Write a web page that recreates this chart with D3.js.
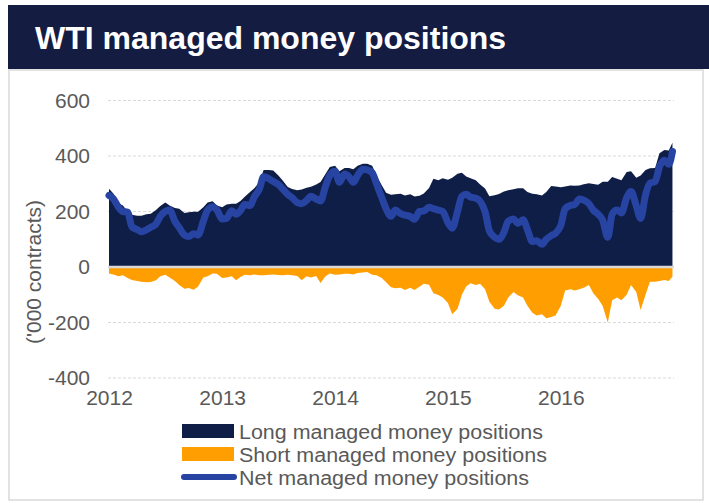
<!DOCTYPE html>
<html>
<head>
<meta charset="utf-8">
<script src="https://cdn.jsdelivr.net/npm/d3@7"></script>
<style>
  html, body { margin: 0; padding: 0; background: #ffffff; }
  svg { display: block; font-family: "Liberation Sans", Arial, sans-serif; }
</style>
</head>
<body>
<script>
// ---- Data (thousand contracts), semi-monthly readings ----
const dates = [
  "2012-01-01","2012-01-15","2012-02-01","2012-02-15","2012-03-01","2012-03-15","2012-04-01","2012-04-15","2012-05-01","2012-05-15","2012-06-01","2012-06-15",
  "2012-07-01","2012-07-15","2012-08-01","2012-08-15","2012-09-01","2012-09-15","2012-10-01","2012-10-15","2012-11-01","2012-11-15","2012-12-01","2012-12-15",
  "2013-01-01","2013-01-15","2013-02-01","2013-02-15","2013-03-01","2013-03-15","2013-04-01","2013-04-15","2013-05-01","2013-05-15","2013-06-01","2013-06-15",
  "2013-07-01","2013-07-15","2013-08-01","2013-08-15","2013-09-01","2013-09-15","2013-10-01","2013-10-15","2013-11-01","2013-11-15","2013-12-01","2013-12-15",
  "2014-01-01","2014-01-15","2014-02-01","2014-02-15","2014-03-01","2014-03-15","2014-04-01","2014-04-15","2014-05-01","2014-05-15","2014-06-01","2014-06-15",
  "2014-07-01","2014-07-15","2014-08-01","2014-08-15","2014-09-01","2014-09-15","2014-10-01","2014-10-15","2014-11-01","2014-11-15","2014-12-01","2014-12-15",
  "2015-01-01","2015-01-15","2015-02-01","2015-02-15","2015-03-01","2015-03-15","2015-04-01","2015-04-15","2015-05-01","2015-05-15","2015-06-01","2015-06-15",
  "2015-07-01","2015-07-15","2015-08-01","2015-08-15","2015-09-01","2015-09-15","2015-10-01","2015-10-15","2015-11-01","2015-11-15","2015-12-01","2015-12-15",
  "2016-01-01","2016-01-15","2016-02-01","2016-02-15","2016-03-01","2016-03-15","2016-04-01","2016-04-15","2016-05-01","2016-05-15","2016-06-01","2016-06-15",
  "2016-07-01","2016-07-15","2016-08-01","2016-08-15","2016-09-01","2016-09-15","2016-10-01","2016-10-15","2016-11-01","2016-11-15","2016-12-01","2016-12-15",
  "2016-12-27"
];

const longPos = [
  282,265,230,222,200,188,185,185,190,192,205,220,232,222,213,210,195,197,199,199,215,232,237,222,
  215,225,228,228,238,253,270,284,305,350,350,348,331,313,288,281,277,279,286,289,297,306,335,360,
  365,345,357,357,352,365,372,372,365,330,295,268,260,262,264,258,262,254,257,265,285,318,313,320,
  314,322,336,340,326,320,313,297,283,255,259,263,272,277,280,284,284,270,264,262,258,270,292,290,
  287,290,294,293,294,298,302,299,296,307,307,324,318,313,342,345,322,330,350,356,357,410,422,420,
  448
];

const shortPos = [
  -23,-27,-33,-30,-40,-47,-50,-53,-55,-54,-48,-33,-28,-38,-50,-65,-78,-76,-82,-70,-38,-33,-23,-24,
  -40,-38,-33,-48,-36,-28,-30,-27,-30,-30,-28,-27,-29,-30,-28,-30,-32,-48,-33,-38,-32,-58,-33,-23,
  -28,-27,-24,-24,-27,-22,-20,-18,-28,-30,-40,-55,-73,-77,-75,-83,-75,-83,-71,-60,-64,-95,-101,-110,
  -130,-170,-150,-100,-70,-59,-65,-60,-80,-125,-150,-153,-140,-110,-90,-102,-110,-140,-165,-175,-170,-185,-180,-175,
  -140,-85,-80,-85,-80,-75,-65,-95,-115,-140,-200,-120,-110,-120,-100,-65,-90,-155,-100,-53,-53,-50,-47,-50,
  -35
];

const netPos = [
  258,246,215,200,198,145,135,127,134,143,155,183,200,205,165,142,115,110,120,115,165,205,217,205,
  173,175,203,190,203,225,222,253,280,325,318,308,298,282,262,250,232,228,240,255,245,238,290,330,
  345,305,335,325,305,330,352,350,340,300,250,210,183,205,192,187,182,172,200,202,215,210,205,200,
  160,140,200,255,262,252,248,237,200,130,107,100,125,165,173,157,170,135,92,95,82,100,113,122,
  150,210,222,225,245,241,228,205,190,170,107,190,205,195,250,272,220,175,260,302,308,361,385,370,
  416
];

const yTicks = [-400, -200, 0, 200, 400, 600];
const xTickYears = ["2012", "2013", "2014", "2015", "2016"];
const seriesNames = ["Long managed money positions", "Short managed money positions", "Net managed money positions"];
const titleText = "WTI managed money positions";
const yAxisTitle = "('000 contracts)";

// ---- Build ----
const W = 709, H = 503;
const parse = d3.timeParse("%Y-%m-%d");
const data = dates.map((d, i) => ({ date: parse(d), long: longPos[i], short: shortPos[i], net: netPos[i] }));

const colors = { long: "#0f1e46", short: "#ff9e00", net: "#2744a3", text: "#595959", grid: "#d9d9d9", title: "#141c42" };

const svg = d3.select("body").append("svg").attr("width", W).attr("height", H);

// Title bar
svg.append("rect").attr("x", 8).attr("y", 5).attr("width", W - 8).attr("height", 64).attr("fill", colors.title);
svg.append("text").attr("x", 35).attr("y", 49).attr("fill", "#ffffff")
  .attr("font-size", 32).attr("font-weight", "bold").text(titleText);

// Chart frame
svg.append("rect").attr("x", 9).attr("y", 70).attr("width", 694).attr("height", 430)
  .attr("fill", "none").attr("stroke", "#d9d9d9").attr("stroke-width", 1.5);

const x = d3.scaleTime().domain([parse("2012-01-01"), parse("2017-01-01")]).range([109, 674]);
const y = d3.scaleLinear().domain([-400, 600]).range([378, 100.5]);

// Gridlines
svg.append("g").selectAll("line").data(yTicks.filter(t => t !== 0)).join("line")
  .attr("x1", 108).attr("x2", 674).attr("y1", d => y(d)).attr("y2", d => y(d))
  .attr("stroke", colors.grid).attr("stroke-width", 1).attr("stroke-dasharray", "3,2");

// Areas
const areaLong = d3.area().x(d => x(d.date)).y0(y(0)).y1(d => y(d.long));
const areaShort = d3.area().x(d => x(d.date)).y0(y(0)).y1(d => y(d.short));
svg.append("path").datum(data).attr("d", areaLong).attr("fill", colors.long);
svg.append("path").datum(data).attr("d", areaShort).attr("fill", colors.short);

// Zero line
svg.append("line").attr("x1", 108).attr("x2", 674).attr("y1", y(0)).attr("y2", y(0))
  .attr("stroke", "#d9d9d9").attr("stroke-width", 2.5);

// Net line
const lineNet = d3.line().x(d => x(d.date)).y(d => y(d.net)).curve(d3.curveMonotoneX);
svg.append("path").datum(data).attr("d", lineNet).attr("fill", "none")
  .attr("stroke", colors.net).attr("stroke-width", 7).attr("stroke-linejoin", "round").attr("stroke-linecap", "round");

// Y axis
const yAxis = d3.axisLeft(y).tickValues(yTicks).tickSize(0).tickPadding(0).tickFormat(d => String(d));
const gy = svg.append("g").attr("transform", "translate(90,0)").call(yAxis);
gy.select(".domain").remove();
gy.selectAll("text").attr("font-size", 21).attr("fill", colors.text).attr("font-family", "Liberation Sans, Arial, sans-serif");

// X axis
const xAxis = d3.axisBottom(x).tickValues(xTickYears.map(s => parse(s + "-01-01")))
  .tickSize(0).tickPadding(0).tickFormat(d3.timeFormat("%Y"));
const gx = svg.append("g").attr("transform", "translate(0,390)").call(xAxis);
gx.select(".domain").remove();
gx.selectAll("text").attr("font-size", 21).attr("fill", colors.text).attr("font-family", "Liberation Sans, Arial, sans-serif");

// Y axis title
svg.append("text").attr("transform", "translate(41,272) rotate(-90)").attr("text-anchor", "middle")
  .attr("font-size", 21).attr("fill", colors.text).text(yAxisTitle);

// Legend
const lg = svg.append("g");
const rows = [431, 454, 477];
const widths = [304, 308, 290];
lg.append("rect").attr("x", 182).attr("y", rows[0] - 7).attr("width", 52).attr("height", 14).attr("fill", colors.long);
lg.append("rect").attr("x", 182).attr("y", rows[1] - 7).attr("width", 52).attr("height", 14).attr("fill", colors.short);
lg.append("line").attr("x1", 184).attr("x2", 234).attr("y1", rows[2]).attr("y2", rows[2])
  .attr("stroke", colors.net).attr("stroke-width", 6).attr("stroke-linecap", "round");
lg.selectAll("text").data(seriesNames).join("text")
  .attr("x", 239).attr("y", (d, i) => rows[i] + 7.5)
  .attr("font-size", 20).attr("textLength", (d, i) => widths[i]).attr("lengthAdjust", "spacingAndGlyphs")
  .attr("fill", colors.text).text(d => d);
</script>
</body>
</html>
